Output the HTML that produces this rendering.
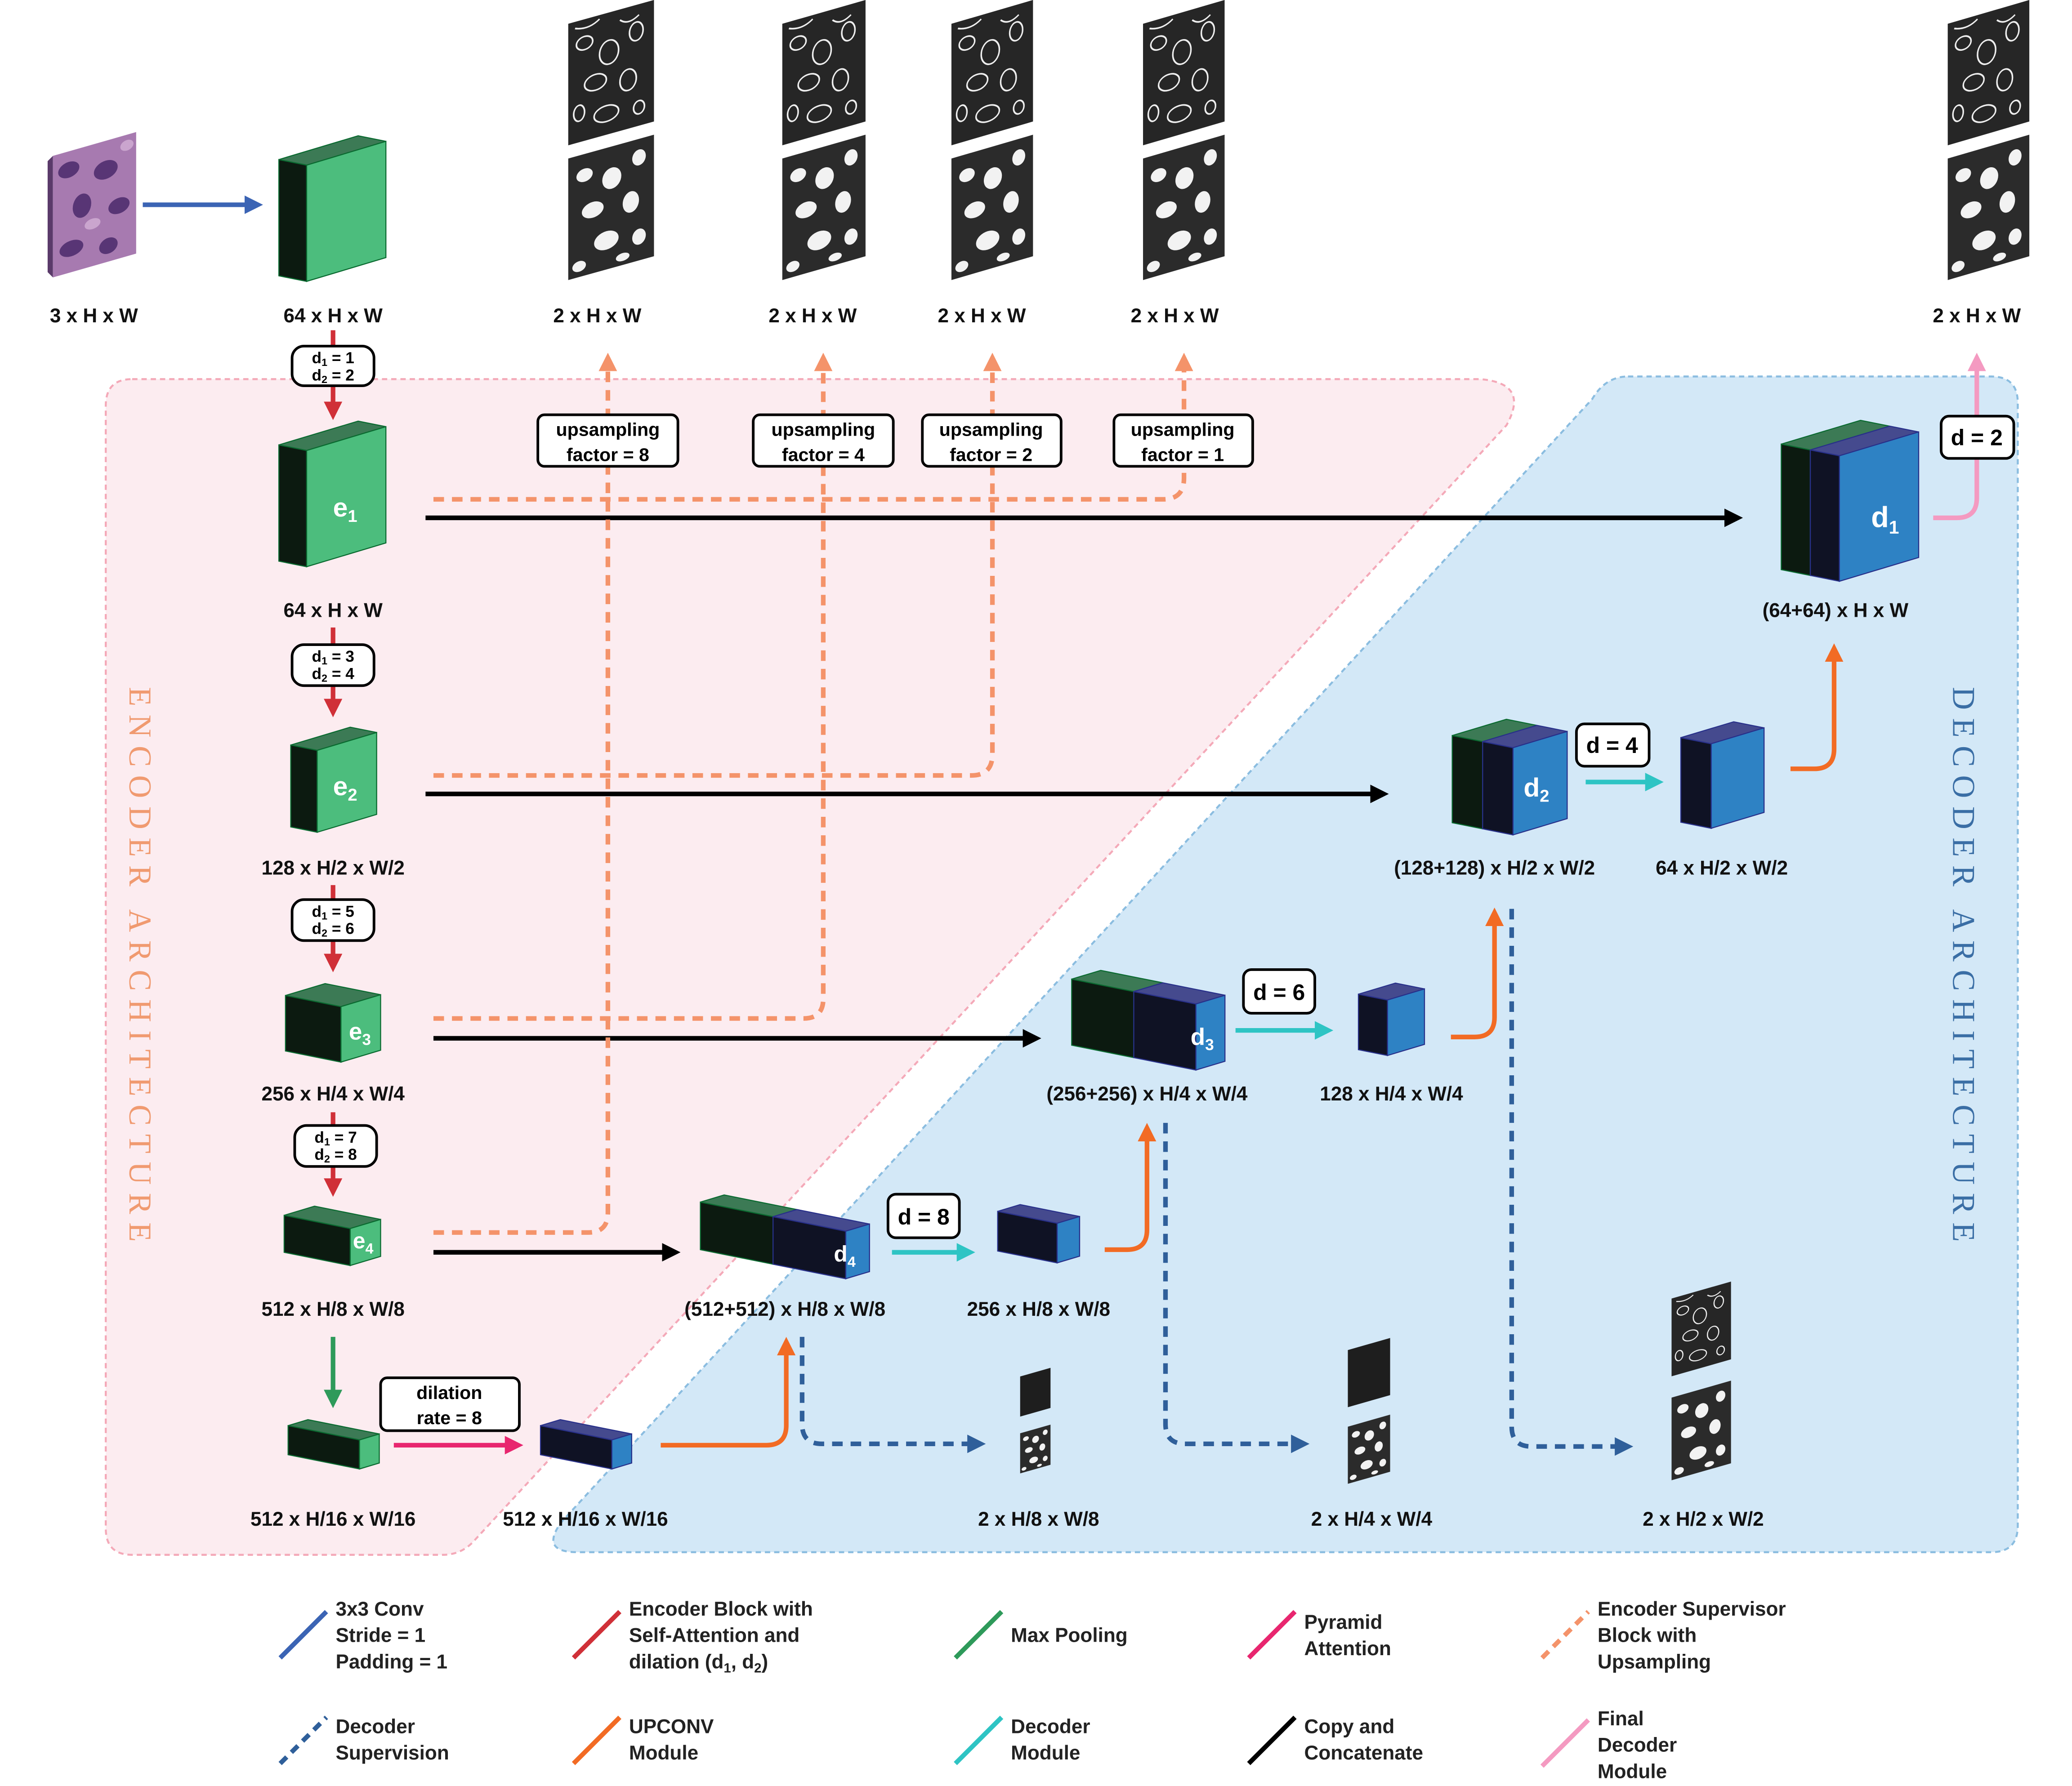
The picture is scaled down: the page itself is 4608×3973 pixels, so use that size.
<!DOCTYPE html>
<html><head><meta charset="utf-8"><style>
html,body{margin:0;padding:0;background:#fff;}
svg{display:block;}
text{font-family:"Liberation Sans",sans-serif;font-weight:bold;}
</style></head><body>
<svg xmlns="http://www.w3.org/2000/svg" width="4608" height="3973" viewBox="0 0 1568 1352">
<defs>
<marker id="mBlue" markerUnits="userSpaceOnUse" markerWidth="16" markerHeight="14" refX="1" refY="7" orient="auto"><path d="M0,0 L14,7 L0,14 z" fill="#3b64b4"/></marker>
<marker id="mRed" markerUnits="userSpaceOnUse" markerWidth="16" markerHeight="14" refX="1" refY="7" orient="auto"><path d="M0,0 L14,7 L0,14 z" fill="#d03038"/></marker>
<marker id="mGreen" markerUnits="userSpaceOnUse" markerWidth="16" markerHeight="14" refX="1" refY="7" orient="auto"><path d="M0,0 L14,7 L0,14 z" fill="#2e9a5a"/></marker>
<marker id="mMag" markerUnits="userSpaceOnUse" markerWidth="16" markerHeight="14" refX="1" refY="7" orient="auto"><path d="M0,0 L14,7 L0,14 z" fill="#e8266f"/></marker>
<marker id="mBlack" markerUnits="userSpaceOnUse" markerWidth="16" markerHeight="14" refX="1" refY="7" orient="auto"><path d="M0,0 L14,7 L0,14 z" fill="#000"/></marker>
<marker id="mOr" markerUnits="userSpaceOnUse" markerWidth="16" markerHeight="14" refX="1" refY="7" orient="auto"><path d="M0,0 L14,7 L0,14 z" fill="#f26b24"/></marker>
<marker id="mCy" markerUnits="userSpaceOnUse" markerWidth="16" markerHeight="14" refX="1" refY="7" orient="auto"><path d="M0,0 L14,7 L0,14 z" fill="#2ec4c4"/></marker>
<marker id="mPink" markerUnits="userSpaceOnUse" markerWidth="16" markerHeight="14" refX="1" refY="7" orient="auto"><path d="M0,0 L14,7 L0,14 z" fill="#f49ac1"/></marker>
<marker id="mDB" markerUnits="userSpaceOnUse" markerWidth="16" markerHeight="14" refX="1" refY="7" orient="auto"><path d="M0,0 L14,7 L0,14 z" fill="#2f5f9a"/></marker>
<marker id="mLO" markerUnits="userSpaceOnUse" markerWidth="16" markerHeight="14" refX="1" refY="7" orient="auto"><path d="M0,0 L14,7 L0,14 z" fill="#f4936a"/></marker>
<g id="edgeP">
<rect x="0" y="0" width="63" height="92" fill="#262626"/>
<g fill="none" stroke="#eee" stroke-width="1.2">
<ellipse cx="12" cy="18" rx="6" ry="5"/><ellipse cx="30" cy="30" rx="7" ry="9"/><ellipse cx="50" cy="20" rx="5" ry="7"/>
<ellipse cx="20" cy="50" rx="8" ry="6"/><ellipse cx="44" cy="55" rx="6" ry="8"/><ellipse cx="28" cy="76" rx="9" ry="6"/>
<ellipse cx="52" cy="78" rx="4" ry="5"/><ellipse cx="8" cy="70" rx="4" ry="6"/><path d="M5,5 q10,4 18,-2 M38,8 q6,6 14,0"/>
</g></g>
<g id="blobP">
<rect x="0" y="0" width="63" height="92" fill="#2b2b2b"/>
<g fill="#f2f2f2">
<ellipse cx="12" cy="16" rx="6" ry="5"/><ellipse cx="32" cy="24" rx="7" ry="8"/><ellipse cx="52" cy="14" rx="5" ry="6"/>
<ellipse cx="18" cy="44" rx="8" ry="6"/><ellipse cx="46" cy="46" rx="6" ry="8"/><ellipse cx="28" cy="70" rx="9" ry="7"/>
<ellipse cx="52" cy="74" rx="5" ry="6"/><ellipse cx="8" cy="84" rx="5" ry="4"/><ellipse cx="40" cy="86" rx="5" ry="3"/>
</g></g>
<g id="histo">
<rect x="0" y="0" width="63" height="92" fill="#a77ab0"/>
<g fill="#4b2a6b" opacity="0.85">
<ellipse cx="12" cy="14" rx="8" ry="6"/><ellipse cx="40" cy="22" rx="9" ry="7"/><ellipse cx="22" cy="44" rx="7" ry="9"/>
<ellipse cx="50" cy="52" rx="8" ry="6"/><ellipse cx="14" cy="74" rx="9" ry="6"/><ellipse cx="42" cy="80" rx="7" ry="6"/>
</g><g fill="#d8b8dc" opacity="0.7"><ellipse cx="30" cy="60" rx="6" ry="4"/><ellipse cx="56" cy="8" rx="5" ry="4"/></g>
</g>
</defs>

<path d="M100,287 H1120 Q1158,290 1140,322 L360,1165 Q350,1177 335,1177 H100 Q80,1177 80,1157 V307 Q80,287 100,287 Z" fill="#fcecf0" stroke="#f4a9b8" stroke-width="1.5" stroke-dasharray="4 3"/>
<path d="M1232,285 H1507 Q1527,285 1527,305 V1155 Q1527,1175 1507,1175 H437 Q408,1175 425,1152 L1205,302 Q1215,285 1232,285 Z" fill="#d3e8f7" stroke="#8bbde0" stroke-width="1.5" stroke-dasharray="4 3"/>

<text transform="translate(98,730) rotate(90)" text-anchor="middle" font-size="24" fill="#f09a70" textLength="420" lengthAdjust="spacing" style="font-family:'Liberation Serif',serif;font-weight:normal">ENCODER ARCHITECTURE</text>
<text transform="translate(1478,730) rotate(90)" text-anchor="middle" font-size="24" fill="#3a6ea5" textLength="420" lengthAdjust="spacing" style="font-family:'Liberation Serif',serif;font-weight:normal">DECODER ARCHITECTURE</text>

<polygon points="36,122 40,118 40,210 36,206" fill="#5a3a6a"/>
<use href="#histo" transform="matrix(1,-0.286,0,1,40,118)"/>

<use href="#edgeP" transform="matrix(1.03,-0.286,0,1,430,18)"/>
<use href="#blobP" transform="matrix(1.03,-0.286,0,1,430,120)"/>
<use href="#edgeP" transform="matrix(1,-0.286,0,1,592,18)"/>
<use href="#blobP" transform="matrix(1,-0.286,0,1,592,120)"/>
<use href="#edgeP" transform="matrix(0.98,-0.286,0,1,720,18)"/>
<use href="#blobP" transform="matrix(0.98,-0.286,0,1,720,120)"/>
<use href="#edgeP" transform="matrix(0.98,-0.286,0,1,865,18)"/>
<use href="#blobP" transform="matrix(0.98,-0.286,0,1,865,120)"/>
<use href="#edgeP" transform="matrix(0.98,-0.286,0,1,1474,18)"/>
<use href="#blobP" transform="matrix(0.98,-0.286,0,1,1474,120)"/>

<g transform="matrix(0.365,-0.104,0,0.33,772,1042)"><rect width="63" height="92" fill="#1e1e1e"/></g>
<use href="#blobP" transform="matrix(0.365,-0.104,0,0.33,772,1085)"/>
<g transform="matrix(0.508,-0.145,0,0.47,1020,1022)"><rect width="63" height="92" fill="#1e1e1e"/></g>
<use href="#blobP" transform="matrix(0.508,-0.145,0,0.47,1020,1080)"/>
<use href="#edgeP" transform="matrix(0.714,-0.204,0,0.64,1265,983)"/>
<use href="#blobP" transform="matrix(0.714,-0.204,0,0.68,1265,1058)"/>

<g stroke="#0a6a30" stroke-width="0.8">
<polygon points="211,120.8 232,125 232,213 211,208.8" fill="#0c1a10"/>
<polygon points="211,120.8 271,102.8 292,107 232,125" fill="#3c7a55"/>
<polygon points="232,125 292,107 292,195 232,213" fill="#4cbd7d"/>
<polygon points="211,336.8 232,341 232,429 211,424.8" fill="#0c1a10"/>
<polygon points="211,336.8 271,318.8 292,323 232,341" fill="#3c7a55"/>
<polygon points="232,341 292,323 292,411 232,429" fill="#4cbd7d"/>
<polygon points="220,564 240,568 240,630 220,626" fill="#0c1a10"/>
<polygon points="220,564 265,550.5 285,554.5 240,568" fill="#3c7a55"/>
<polygon points="240,568 285,554.5 285,616.5 240,630" fill="#4cbd7d"/>
<polygon points="216,753.6 258,762 258,804 216,795.6" fill="#0c1a10"/>
<polygon points="216,753.6 246,744.6 288,753 258,762" fill="#3c7a55"/>
<polygon points="258,762 288,753 288,795 258,804" fill="#4cbd7d"/>
<polygon points="215,920 265,930 265,958 215,948" fill="#0c1a10"/>
<polygon points="215,920 238,913.1 288,923.1 265,930" fill="#3c7a55"/>
<polygon points="265,930 288,923.1 288,951.1 265,958" fill="#4cbd7d"/>
<polygon points="218,1079.2 272,1090 272,1112 218,1101.2" fill="#0c1a10"/>
<polygon points="218,1079.2 233,1074.7 287,1085.5 272,1090" fill="#3c7a55"/>
<polygon points="272,1090 287,1085.5 287,1107.5 272,1112" fill="#4cbd7d"/>
<polygon points="530,910 585,921 585,957 530,946" fill="#0c1a10"/>
<polygon points="530,910 548,904.6 603,915.6 585,921" fill="#3c7a55"/>
<polygon points="811,741.2 858,750.6 858,800.6 811,791.2" fill="#0c1a10"/>
<polygon points="811,741.2 833,734.6 880,744 858,750.6" fill="#3c7a55"/>
<polygon points="1099,556.8 1122,561.4 1122,627.4 1099,622.8" fill="#0c1a10"/>
<polygon points="1099,556.8 1140,544.5 1163,549.1 1122,561.4" fill="#3c7a55"/>
<polygon points="1348,336.2 1370,340.6 1370,435.6 1348,431.2" fill="#0c1a10"/>
<polygon points="1348,336.2 1408,318.2 1430,322.6 1370,340.6" fill="#3c7a55"/>
</g>
<g stroke="#28308a" stroke-width="0.8">
<polygon points="409,1079.2 463,1090 463,1112 409,1101.2" fill="#0f1224"/>
<polygon points="409,1079.2 424,1074.7 478,1085.5 463,1090" fill="#454a8e"/>
<polygon points="463,1090 478,1085.5 478,1107.5 463,1112" fill="#2e82c4"/>
<polygon points="585,921 640,932 640,968 585,957" fill="#0f1224"/>
<polygon points="585,921 603,915.6 658,926.6 640,932" fill="#454a8e"/>
<polygon points="640,932 658,926.6 658,962.6 640,968" fill="#2e82c4"/>
<polygon points="755,917 800,926 800,956 755,947" fill="#0f1224"/>
<polygon points="755,917 772,911.9 817,920.9 800,926" fill="#454a8e"/>
<polygon points="800,926 817,920.9 817,950.9 800,956" fill="#2e82c4"/>
<polygon points="858,750.6 905,760 905,810 858,800.6" fill="#0f1224"/>
<polygon points="858,750.6 880,744 927,753.4 905,760" fill="#454a8e"/>
<polygon points="905,760 927,753.4 927,803.4 905,810" fill="#2e82c4"/>
<polygon points="1028,752.6 1050,757 1050,799 1028,794.6" fill="#0f1224"/>
<polygon points="1028,752.6 1056,744.2 1078,748.6 1050,757" fill="#454a8e"/>
<polygon points="1050,757 1078,748.6 1078,790.6 1050,799" fill="#2e82c4"/>
<polygon points="1122,561.4 1145,566 1145,632 1122,627.4" fill="#0f1224"/>
<polygon points="1122,561.4 1163,549.1 1186,553.7 1145,566" fill="#454a8e"/>
<polygon points="1145,566 1186,553.7 1186,619.7 1145,632" fill="#2e82c4"/>
<polygon points="1272,558.4 1295,563 1295,627 1272,622.4" fill="#0f1224"/>
<polygon points="1272,558.4 1312,546.4 1335,551 1295,563" fill="#454a8e"/>
<polygon points="1295,563 1335,551 1335,615 1295,627" fill="#2e82c4"/>
<polygon points="1370,340.6 1392,345 1392,440 1370,435.6" fill="#0f1224"/>
<polygon points="1370,340.6 1430,322.6 1452,327 1392,345" fill="#454a8e"/>
<polygon points="1392,345 1452,327 1452,422 1392,440" fill="#2e82c4"/>
</g>

<g fill="#fff" font-size="20" style="font-family:'Liberation Serif',serif;font-weight:bold">
<text x="252" y="391">e<tspan font-size="13" dy="4">1</tspan></text>
<text x="252" y="602">e<tspan font-size="13" dy="4">2</tspan></text>
<text x="264" y="787" font-size="18">e<tspan font-size="12" dy="4">3</tspan></text>
<text x="267" y="945" font-size="17">e<tspan font-size="11" dy="4">4</tspan></text>
<text x="631" y="955" font-size="17">d<tspan font-size="11" dy="4">4</tspan></text>
<text x="901" y="791" font-size="18">d<tspan font-size="12" dy="4">3</tspan></text>
<text x="1153" y="603" font-size="20">d<tspan font-size="13" dy="4">2</tspan></text>
<text x="1416" y="399" font-size="22">d<tspan font-size="14" dy="5">1</tspan></text>
</g>

<g fill="none" stroke-width="3.5">
<path d="M108,155 H186" stroke="#3b64b4" marker-end="url(#mBlue)"/>
<path d="M252,250 V305" stroke="#d03038" marker-end="url(#mRed)"/>
<path d="M252,475 V530" stroke="#d03038" marker-end="url(#mRed)"/>
<path d="M252,670 V723" stroke="#d03038" marker-end="url(#mRed)"/>
<path d="M252,842 V893" stroke="#d03038" marker-end="url(#mRed)"/>
<path d="M252,1012 V1053" stroke="#2e9a5a" marker-end="url(#mGreen)"/>
<path d="M298,1094 H383" stroke="#e8266f" marker-end="url(#mMag)"/>
<path d="M322,392 H1306" stroke="#000" marker-end="url(#mBlack)"/>
<path d="M322,601 H1038" stroke="#000" marker-end="url(#mBlack)"/>
<path d="M328,786 H775" stroke="#000" marker-end="url(#mBlack)"/>
<path d="M328,948 H502" stroke="#000" marker-end="url(#mBlack)"/>
<path d="M500,1094 H580 Q595,1094 595,1079 V1025" stroke="#f26b24" marker-end="url(#mOr)"/>
<path d="M836,946 H853 Q868,946 868,931 V863" stroke="#f26b24" marker-end="url(#mOr)"/>
<path d="M1098,785 H1116 Q1131,785 1131,770 V700" stroke="#f26b24" marker-end="url(#mOr)"/>
<path d="M1355,582 H1373 Q1388,582 1388,567 V500" stroke="#f26b24" marker-end="url(#mOr)"/>
<path d="M675,948 H725" stroke="#2ec4c4" marker-end="url(#mCy)"/>
<path d="M935,780 H996" stroke="#2ec4c4" marker-end="url(#mCy)"/>
<path d="M1200,592 H1246" stroke="#2ec4c4" marker-end="url(#mCy)"/>
<path d="M1463,392 H1481 Q1496,392 1496,377 V280" stroke="#f49ac1" marker-end="url(#mPink)"/>
<g stroke-dasharray="8 6">
<path d="M607,1012 V1078 Q607,1093 622,1093 H733" stroke="#2f5f9a" marker-end="url(#mDB)"/>
<path d="M882,850 V1078 Q882,1093 897,1093 H978" stroke="#2f5f9a" marker-end="url(#mDB)"/>
<path d="M1144,688 V1080 Q1144,1095 1159,1095 H1223" stroke="#2f5f9a" marker-end="url(#mDB)"/>
<path d="M328,378 H880 Q896,378 896,362 V280" stroke="#f4936a" marker-end="url(#mLO)"/>
<path d="M328,587 H735 Q751,587 751,571 V280" stroke="#f4936a" marker-end="url(#mLO)"/>
<path d="M328,771 H608 Q623,771 623,756 V280" stroke="#f4936a" marker-end="url(#mLO)"/>
<path d="M328,933 H445 Q460,933 460,918 V280" stroke="#f4936a" marker-end="url(#mLO)"/>
</g>
</g>

<g fill="#fff" stroke="#000" stroke-width="2">
<rect x="221" y="262" width="62" height="30" rx="9"/>
<rect x="221" y="488" width="62" height="31" rx="9"/>
<rect x="221" y="681" width="62" height="31" rx="9"/>
<rect x="223" y="852" width="62" height="31" rx="9"/>
<rect x="288" y="1043" width="105" height="40" rx="5"/>
<rect x="407" y="314" width="106" height="39" rx="5"/>
<rect x="570" y="314" width="106" height="39" rx="5"/>
<rect x="698" y="314" width="105" height="39" rx="5"/>
<rect x="843" y="314" width="105" height="39" rx="5"/>
<rect x="672" y="904" width="54" height="33" rx="6"/>
<rect x="941" y="734" width="54" height="33" rx="6"/>
<rect x="1193" y="548" width="55" height="32" rx="6"/>
<rect x="1469" y="315" width="55" height="32" rx="6"/>
</g>
<g font-size="12" text-anchor="middle" fill="#000">
<text x="252" y="275">d<tspan font-size="8" dy="2">1</tspan><tspan dy="-2"> = 1</tspan></text>
<text x="252" y="288">d<tspan font-size="8" dy="2">2</tspan><tspan dy="-2"> = 2</tspan></text>
<text x="252" y="501">d<tspan font-size="8" dy="2">1</tspan><tspan dy="-2"> = 3</tspan></text>
<text x="252" y="514">d<tspan font-size="8" dy="2">2</tspan><tspan dy="-2"> = 4</tspan></text>
<text x="252" y="694">d<tspan font-size="8" dy="2">1</tspan><tspan dy="-2"> = 5</tspan></text>
<text x="252" y="707">d<tspan font-size="8" dy="2">2</tspan><tspan dy="-2"> = 6</tspan></text>
<text x="254" y="865">d<tspan font-size="8" dy="2">1</tspan><tspan dy="-2"> = 7</tspan></text>
<text x="254" y="878">d<tspan font-size="8" dy="2">2</tspan><tspan dy="-2"> = 8</tspan></text>
</g>
<g font-size="14" text-anchor="middle" fill="#000">
<text x="340" y="1059">dilation</text><text x="340" y="1078">rate = 8</text>
<text x="460" y="330">upsampling</text><text x="460" y="349">factor = 8</text>
<text x="623" y="330">upsampling</text><text x="623" y="349">factor = 4</text>
<text x="750" y="330">upsampling</text><text x="750" y="349">factor = 2</text>
<text x="895" y="330">upsampling</text><text x="895" y="349">factor = 1</text>
</g>
<g font-size="17" text-anchor="middle" fill="#000">
<text x="699" y="927">d = 8</text>
<text x="968" y="757">d = 6</text>
<text x="1220" y="570">d = 4</text>
<text x="1496" y="337">d = 2</text>
</g>

<g font-size="15" text-anchor="middle" fill="#111">
<text x="71" y="244">3 x H x W</text>
<text x="252" y="244">64 x H x W</text>
<text x="452" y="244">2 x H x W</text>
<text x="615" y="244">2 x H x W</text>
<text x="743" y="244">2 x H x W</text>
<text x="889" y="244">2 x H x W</text>
<text x="1496" y="244">2 x H x W</text>
<text x="252" y="467">64 x H x W</text>
<text x="252" y="662">128 x H/2 x W/2</text>
<text x="252" y="833">256 x H/4 x W/4</text>
<text x="252" y="996">512 x H/8 x W/8</text>
<text x="252" y="1155">512 x H/16 x W/16</text>
<text x="443" y="1155">512 x H/16 x W/16</text>
<text x="594" y="996">(512+512) x H/8 x W/8</text>
<text x="786" y="996">256 x H/8 x W/8</text>
<text x="868" y="833">(256+256) x H/4 x W/4</text>
<text x="1053" y="833">128 x H/4 x W/4</text>
<text x="1131" y="662">(128+128) x H/2 x W/2</text>
<text x="1303" y="662">64 x H/2 x W/2</text>
<text x="1389" y="467">(64+64) x H x W</text>
<text x="786" y="1155">2 x H/8 x W/8</text>
<text x="1038" y="1155">2 x H/4 x W/4</text>
<text x="1289" y="1155">2 x H/2 x W/2</text>
</g>

<g stroke-width="3.5" fill="none">
<path d="M212,1255 L247,1220" stroke="#3b64b4"/>
<path d="M434,1255 L469,1220" stroke="#d03038"/>
<path d="M723,1255 L758,1220" stroke="#2e9a5a"/>
<path d="M945,1255 L980,1220" stroke="#e8266f"/>
<path d="M1167,1255 L1202,1220" stroke="#f4936a" stroke-dasharray="7 5"/>
<path d="M212,1335 L247,1300" stroke="#2f5f9a" stroke-dasharray="7 5"/>
<path d="M434,1335 L469,1300" stroke="#f26b24"/>
<path d="M723,1335 L758,1300" stroke="#2ec4c4"/>
<path d="M945,1335 L980,1300" stroke="#000"/>
<path d="M1167,1337 L1202,1302" stroke="#f49ac1"/>
</g>
<g font-size="15" fill="#222">
<text x="254" y="1223">3x3 Conv</text><text x="254" y="1243">Stride = 1</text><text x="254" y="1263">Padding = 1</text>
<text x="476" y="1223">Encoder Block with</text><text x="476" y="1243">Self-Attention and</text><text x="476" y="1263">dilation (d<tspan font-size="10" dy="3">1</tspan><tspan dy="-3">, d</tspan><tspan font-size="10" dy="3">2</tspan><tspan dy="-3">)</tspan></text>
<text x="765" y="1243">Max Pooling</text>
<text x="987" y="1233">Pyramid</text><text x="987" y="1253">Attention</text>
<text x="1209" y="1223">Encoder Supervisor</text><text x="1209" y="1243">Block with</text><text x="1209" y="1263">Upsampling</text>
<text x="254" y="1312">Decoder</text><text x="254" y="1332">Supervision</text>
<text x="476" y="1312">UPCONV</text><text x="476" y="1332">Module</text>
<text x="765" y="1312">Decoder</text><text x="765" y="1332">Module</text>
<text x="987" y="1312">Copy and</text><text x="987" y="1332">Concatenate</text>
<text x="1209" y="1306">Final</text><text x="1209" y="1326">Decoder</text><text x="1209" y="1346">Module</text>
</g>
</svg>
</body></html>
